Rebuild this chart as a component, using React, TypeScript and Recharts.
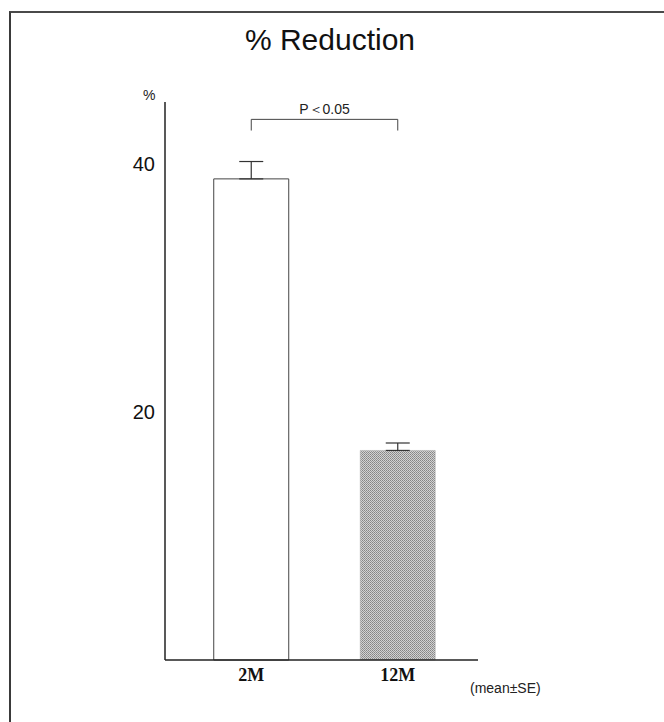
import { BarChart, Bar, Cell, XAxis, YAxis, ErrorBar, ReferenceLine } from 'recharts';

const categories = ['2M', '12M'];
const means = [38.8, 16.9];
const upperSE = [1.4, 0.6];
const yTicks = [20, 40];

// significance bracket (P<0.05) between the two groups
const bracketTop = 43.6;
const bracketLeg = 42.7;
const pLabel = 'P＜0.05';

const data = categories.map((name, i) => ({
  name,
  value: means[i],
  err: [0, upperSE[i]],
}));

const sans = '"Liberation Sans", Arial, sans-serif';
const serif = '"Liberation Serif", "Times New Roman", serif';

export default function App() {
  return (
    <div
      style={{
        position: 'absolute',
        left: 0,
        top: 0,
        width: 664,
        height: 722,
        overflow: 'hidden',
        background: '#fff',
      }}
    >
      {/* scanned frame: only top and left edges show */}
      <div
        style={{
          position: 'absolute',
          left: 9,
          top: 11,
          width: 700,
          height: 760,
          borderTop: '2px solid #4a4a4a',
          borderLeft: '2px solid #3a3a3a',
        }}
      />
      <div
        style={{
          position: 'absolute',
          left: 160,
          top: 22,
          width: 340,
          textAlign: 'center',
          fontFamily: sans,
          fontSize: 30,
          lineHeight: '36px',
          color: '#111',
        }}
      >
        % Reduction
      </div>
      <div
        style={{
          position: 'absolute',
          left: 143,
          top: 87,
          fontFamily: sans,
          fontSize: 14,
          color: '#222',
        }}
      >
        %
      </div>
      <div
        style={{
          position: 'absolute',
          left: 470,
          top: 680,
          fontFamily: sans,
          fontSize: 14,
          color: '#222',
        }}
      >
        (mean±SE)
      </div>

      <div style={{ position: 'absolute', left: 0, top: 0 }}>
        <BarChart
          width={664}
          height={722}
          data={data}
          margin={{ top: 102, right: 186, bottom: 22, left: 0 }}
          barCategoryGap="24.4%"
        >
          <defs>
            <pattern id="stipple" width="2" height="2" patternUnits="userSpaceOnUse">
              <rect width="2" height="2" fill="#d2d2d2" />
              <rect width="1" height="1" fill="#858585" />
              <rect x="1" y="1" width="1" height="1" fill="#959595" />
            </pattern>
          </defs>
          <XAxis
            dataKey="name"
            padding={{ left: 13, right: 7 }}
            height={40}
            tickLine={false}
            axisLine={{ stroke: '#222', strokeWidth: 1.5 }}
            tick={{ fill: '#111', fontFamily: serif, fontWeight: 700, fontSize: 18 }}
          />
          <YAxis
            width={165}
            domain={[0, 45]}
            ticks={yTicks}
            tickLine={false}
            tickMargin={4}
            axisLine={{ stroke: '#222', strokeWidth: 1.5 }}
            tick={{ fill: '#111', fontFamily: sans, fontSize: 20 }}
          />
          <Bar dataKey="value" isAnimationActive={false}>
            <Cell fill="#fff" stroke="#444" strokeWidth={1} />
            <Cell fill="url(#stipple)" stroke="#aaa" strokeWidth={0.5} />
            <ErrorBar dataKey="err" width={12} stroke="#333" strokeWidth={1.2} isAnimationActive={false} />
          </Bar>
          <ReferenceLine
            segment={[
              { x: categories[0], y: bracketTop },
              { x: categories[1], y: bracketTop },
            ]}
            stroke="#444"
            strokeWidth={1}
            label={{ value: pLabel, position: 'top', fill: '#222', fontSize: 14, fontFamily: sans }}
          />
          <ReferenceLine
            segment={[
              { x: categories[0], y: bracketLeg },
              { x: categories[0], y: bracketTop },
            ]}
            stroke="#444"
            strokeWidth={1}
          />
          <ReferenceLine
            segment={[
              { x: categories[1], y: bracketLeg },
              { x: categories[1], y: bracketTop },
            ]}
            stroke="#444"
            strokeWidth={1}
          />
        </BarChart>
      </div>
    </div>
  );
}
